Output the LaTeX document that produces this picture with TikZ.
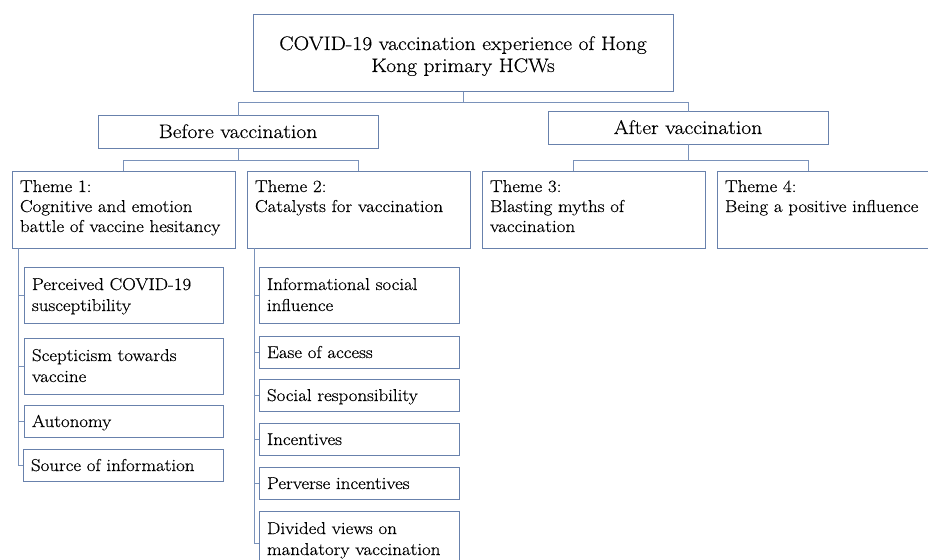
\documentclass[tikz,border=0pt]{standalone}
\usepackage{fontspec}
\setmainfont{Latin Modern Roman}[FakeStretch=1.1,FakeBold=0.4]
\definecolor{boxline}{RGB}{104,129,172}
\definecolor{linkline}{RGB}{122,146,186}

\begin{document}
\begin{tikzpicture}[x=1pt,y=-1pt,
  box/.style={draw=boxline,line width=1pt,anchor=north west,inner xsep=8pt,inner ysep=0pt,
    outer sep=0pt,align=left,font=\fontsize{17.2}{20}\selectfont},
  big/.style={align=center,font=\fontsize{19.6}{22}\selectfont},
  sz/.style n args={3}{text width=#1,text height=#2,text depth=#3},
  link/.style={draw=linkline,line width=1pt}]
\useasboundingbox (0,0) rectangle (928,559);
\clip (0,0) rectangle (928,559);

% Top levels
\node[box,big,sz={404pt}{35pt}{42pt}] (root) at (253,15)
  {COVID-19 vaccination experience of Hong\\Kong primary HCWs};
\node[box,big,sz={264pt}{22pt}{10pt}] (before) at (98,116) {Before vaccination};
\node[box,big,sz={264pt}{22pt}{10pt}] (after) at (548,112) {After vaccination};

% Themes
\node[box,sz={207pt}{21pt}{56pt}] (t1) at (12,171) {Theme 1:\\Cognitive and emotion\\battle of vaccine hesitancy};
\node[box,sz={207pt}{21pt}{56pt}] (t2) at (247,171) {Theme 2:\\Catalysts for vaccination};
\node[box,sz={207pt}{21pt}{56pt}] (t3) at (482,171) {Theme 3:\\Blasting myths of\\vaccination};
\node[box,sz={207pt}{21pt}{56pt}] (t4) at (717,171) {Theme 4:\\Being a positive influence};

% Sub-themes of theme 1
\node[box,sz={183pt}{23pt}{33pt},font=\fontsize{17.2}{21}\selectfont] (c11) at (24,267) {Perceived COVID-19\\susceptibility};
\node[box,sz={183pt}{23pt}{33pt},font=\fontsize{17.2}{21}\selectfont] (c12) at (24,338) {Scepticism towards\\vaccine};
\node[box,sz={183pt}{22pt}{10pt}] (c13) at (24,405) {Autonomy};
\node[box,sz={184pt}{22pt}{10pt}] (c14) at (23,449) {Source of information};

% Sub-themes of theme 2
\node[box,sz={184pt}{23pt}{33pt},font=\fontsize{17.2}{21}\selectfont] (c21) at (259,267) {Informational social\\influence};
\node[box,sz={184pt}{22pt}{10pt}] (c22) at (259,336) {Ease of access};
\node[box,sz={184pt}{22pt}{10pt}] (c23) at (259,379) {Social responsibility};
\node[box,sz={184pt}{22pt}{10pt}] (c24) at (259,423) {Incentives};
\node[box,sz={184pt}{22pt}{10pt}] (c25) at (259,467) {Perverse incentives};
\node[box,sz={184pt}{23pt}{41pt},font=\fontsize{17.2}{21}\selectfont] (c26) at (259,511) {Divided views on\\mandatory vaccination};

% Connectors
\draw[link] (root.south) -- ++(0,11) -| (before.north);
\draw[link] (root.south) -- ++(0,11) -| (after.north);
\draw[link] (before.south) -- ++(0,12) -| (t1.north);
\draw[link] (before.south) -- ++(0,12) -| (t2.north);
\draw[link] (after.south) -- ++(0,16) -| ([xshift=-20pt]t3.north);
\draw[link] (after.south) -- ++(0,16) -| ([xshift=-20pt]t4.north);
\foreach \c in {c11,c12,c13,c14}
  \draw[link] ([xshift=6pt]t1.south west) |- (\c.west);
\foreach \c in {c21,c22,c23,c24,c25,c26}
  \draw[link] ([xshift=7pt]t2.south west) |- (\c.west);
\end{tikzpicture}
\end{document}
